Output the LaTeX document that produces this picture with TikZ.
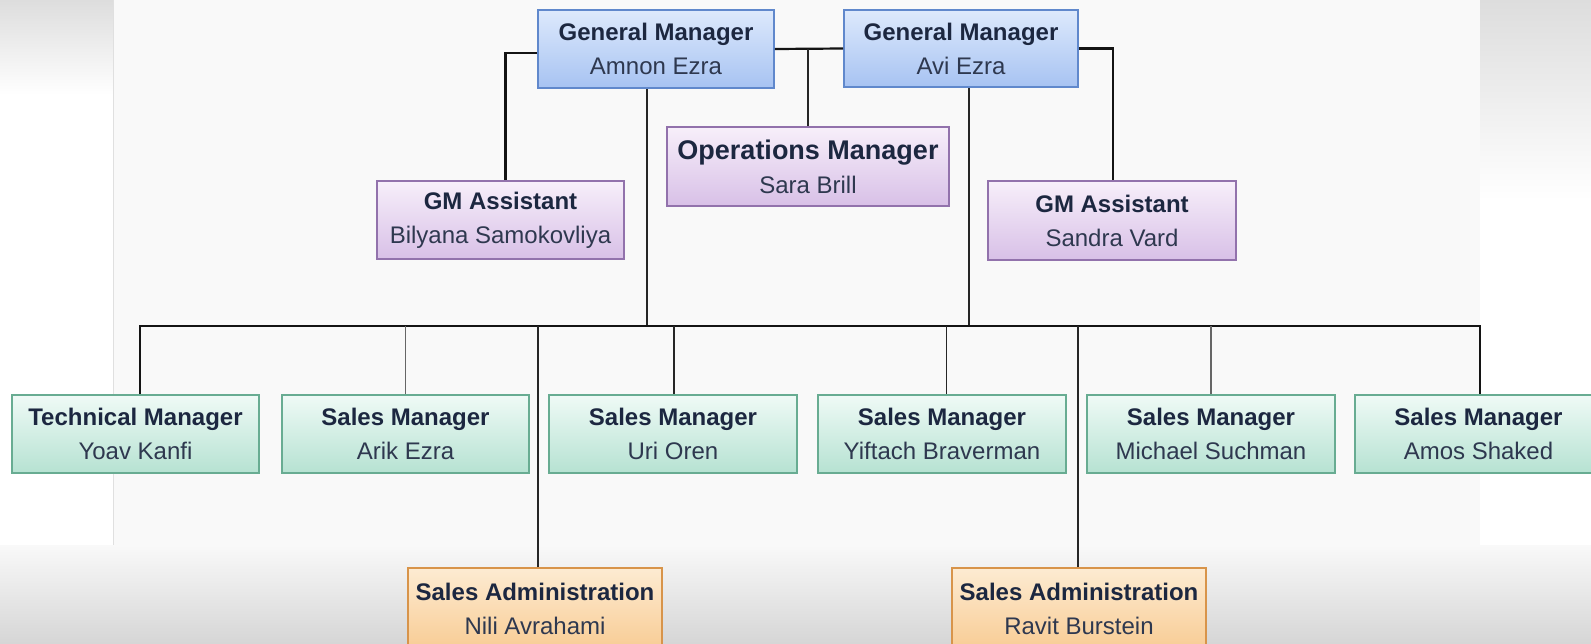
\documentclass[tikz,border=0pt]{standalone}
\usepackage{fontspec}
\setmainfont{Liberation Sans}
\definecolor{bgmain}{HTML}{F9F9F9}
\definecolor{stripgray}{HTML}{DDDDDD}
\definecolor{bottomgray}{HTML}{D6D6D6}
\definecolor{gmtop}{HTML}{DDE9FC}
\definecolor{gmbot}{HTML}{A7C3F2}
\definecolor{gmline}{HTML}{6088CC}
\definecolor{putop}{HTML}{F7EFFA}
\definecolor{pubot}{HTML}{D8C0E7}
\definecolor{puline}{HTML}{9272AC}
\definecolor{grtop}{HTML}{EFFAF6}
\definecolor{grbot}{HTML}{B6E2D2}
\definecolor{grline}{HTML}{68AC92}
\definecolor{ortop}{HTML}{FDEBD2}
\definecolor{orbot}{HTML}{F8CC94}
\definecolor{orline}{HTML}{D8944A}
\definecolor{titlec}{HTML}{1C2740}
\definecolor{namec}{HTML}{2E384F}
\newcommand{\boxtitle}[1]{{\bfseries\color{titlec}#1}}
\tikzset{
  orgbox/.style={draw, line width=1.6pt, inner sep=0pt, align=center,
    font=\fontsize{24}{34}\selectfont, text=namec},
  gmbox/.style={orgbox, draw=gmline, top color=gmtop, bottom color=gmbot},
  pubox/.style={orgbox, draw=puline, top color=putop, bottom color=pubot},
  grbox/.style={orgbox, draw=grline, top color=grtop, bottom color=grbot,
    minimum height=78pt},
  orbox/.style={orgbox, draw=orline, top color=ortop, bottom color=orbot,
    minimum width=254pt, minimum height=82pt},
  conn/.style={draw=black!92, line width=2.2pt},
  connmid/.style={draw=black!85, line width=1.7pt},
  connthin/.style={draw=black!60, line width=1.1pt},
}
\begin{document}
\begin{tikzpicture}[x=1pt,y=-1pt]
\useasboundingbox (0,0) rectangle (1591,643);
\clip (0,0) rectangle (1591,643);
% background
\fill[bgmain] (0,0) rectangle (1591,643);
\fill[white] (0,0) rectangle (113,643);
\fill[white] (1480,0) rectangle (1591,643);
\shade[top color=stripgray, bottom color=white] (0,0) rectangle (113,95);
\shade[top color=stripgray, bottom color=white] (1480,0) rectangle (1591,200);
\draw[black!12, line width=1pt] (113,0) -- (113,560);
\shade[top color=bgmain, bottom color=bottomgray] (0,545) rectangle (1591,643);

% top level
\node[gmbox, minimum width=236pt, minimum height=78pt] (gm1) at (656,49)
  {\boxtitle{General Manager}\\Amnon Ezra};
\node[gmbox, minimum width=234pt, minimum height=77pt] (gm2) at (961,48.5)
  {\boxtitle{General Manager}\\Avi Ezra};
\node[pubox, minimum width=282pt, minimum height=79pt] (ops) at (808,166.5)
  {{\fontsize{27}{34}\selectfont\boxtitle{Operations Manager}}\\Sara Brill};
\node[pubox, minimum width=247pt, minimum height=78pt] (gma1) at (500.5,220)
  {\boxtitle{GM Assistant}\\Bilyana Samokovliya};
\node[pubox, minimum width=248pt, minimum height=79pt] (gma2) at (1112,220.5)
  {\boxtitle{GM Assistant}\\Sandra Vard};

% managers row
\node[grbox, minimum width=247pt] (tech) at (135.5,434)
  {\boxtitle{Technical Manager}\\Yoav Kanfi};
\node[grbox, minimum width=247pt] (arik) at (405.5,434)
  {\boxtitle{Sales Manager}\\Arik Ezra};
\node[grbox, minimum width=248pt] (uri) at (673,434)
  {\boxtitle{Sales Manager}\\Uri Oren};
\node[grbox, minimum width=248pt] (yif) at (942,434)
  {\boxtitle{Sales Manager}\\Yiftach Braverman};
\node[grbox, minimum width=248pt] (mich) at (1211,434)
  {\boxtitle{Sales Manager}\\Michael Suchman};
\node[grbox, minimum width=247pt] (amos) at (1478.5,434)
  {\boxtitle{Sales Manager}\\Amos Shaked};

% sales administration
\node[orbox] (nili) at (535,609)
  {\boxtitle{Sales Administration}\\Nili Avrahami};
\node[orbox] (ravit) at (1079,609)
  {\boxtitle{Sales Administration}\\Ravit Burstein};

\coordinate (bus) at (0,326);

% connectors at the top
\draw[conn] (gm1.east) -- (gm2.west);
\draw[connmid] (ops.north) -- (ops.north |- gm1.east);
\draw[conn] ([yshift=-4pt]gm1.west) -| ([xshift=5pt]gma1.north);
\draw[conn] (gm2.east) -| ([xshift=1pt]gma2.north);
\draw[connmid] ([xshift=-9pt]gm1.south) -- ([xshift=-9pt]gm1.south |- bus);
\draw[connmid] ([xshift=8pt]gm2.south) -- ([xshift=8pt]gm2.south |- bus);

% bus and drops
\draw[conn] ([xshift=4.5pt]tech.north) -- ([xshift=4.5pt]tech.north |- bus)
  -- ([xshift=1.5pt]amos.north |- bus) -- ([xshift=1.5pt]amos.north);
\draw[connthin] (arik.north) -- (arik.north |- bus);
\draw[connmid] ([xshift=1pt]uri.north) -- ([xshift=1pt]uri.north |- bus);
\draw[connmid] ([xshift=4.5pt]yif.north) -- ([xshift=4.5pt]yif.north |- bus);
\draw[connthin] (mich.north) -- (mich.north |- bus);
\draw[connmid] ([xshift=3pt]nili.north) -- ([xshift=3pt]nili.north |- bus);
\draw[connmid] ([xshift=-1pt]ravit.north) -- ([xshift=-1pt]ravit.north |- bus);
\end{tikzpicture}
\end{document}
